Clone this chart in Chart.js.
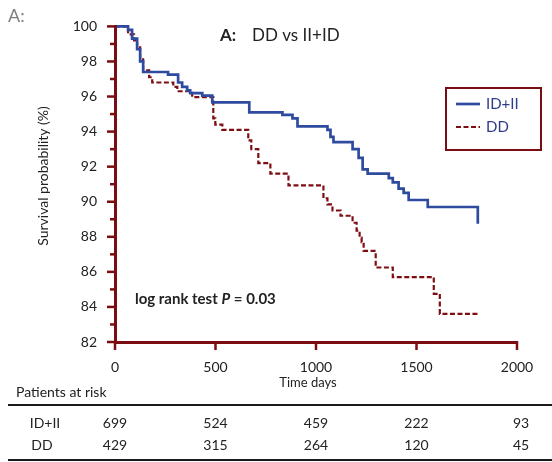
<!DOCTYPE html>
<html>
<head>
<meta charset="utf-8">
<script src="https://cdn.jsdelivr.net/npm/chart.js@4.4.1/dist/chart.umd.min.js"></script>
<style>
  html, body { margin: 0; padding: 0; background: #fff; }
  #wrap { width: 552px; height: 462px; position: relative; }
</style>
</head>
<body>
<div id="wrap"><canvas id="km" width="552" height="462"></canvas></div>
<script>
// Kaplan–Meier survival steps: day of each drop and survival (%) after it
const daysIDII = [0, 65, 85, 110, 125, 140, 264, 314, 334, 359, 374, 434, 484, 668, 833, 883, 908, 1057, 1072, 1087, 1182, 1212, 1232, 1257, 1362, 1382, 1411, 1436, 1461, 1556, 1805];
const survIDII = [100, 99.8, 99.3, 98.7, 98.0, 97.4, 97.25, 96.8, 96.55, 96.35, 96.2, 96.05, 95.67, 95.1, 94.95, 94.75, 94.3, 94.1, 93.7, 93.4, 93.0, 92.5, 91.85, 91.6, 91.35, 91.1, 90.75, 90.5, 90.1, 89.7, 88.75];

const daysDD = [0, 65, 95, 110, 125, 140, 170, 185, 290, 310, 384, 489, 499, 534, 663, 678, 713, 773, 863, 1037, 1057, 1082, 1122, 1182, 1202, 1217, 1227, 1237, 1297, 1382, 1586, 1616, 1805];
const survDD = [100, 99.55, 99.2, 98.9, 98.2, 97.5, 97.1, 96.8, 96.55, 96.3, 95.97, 94.75, 94.4, 94.1, 93.5, 93.0, 92.2, 91.6, 90.93, 90.2, 89.85, 89.5, 89.2, 88.8, 88.35, 87.95, 87.7, 87.2, 86.25, 85.7, 84.75, 83.6, 83.6];

// Axis ticks
const xTickDays = [0, 500, 1000, 1500, 2000];
const yMajorTicks = [82, 84, 86, 88, 90, 92, 94, 96, 98, 100];
const yMinorTicks = [83, 85, 87, 89, 91, 93, 95, 97, 99];

// Numbers at risk under each x tick
const riskGroups = ['ID+II', 'DD'];
const riskIDII = [699, 524, 459, 222, 93];
const riskDD = [429, 315, 264, 120, 45];

const FONT = 'Lato, "Open Sans", sans-serif';
const AXIS_RED = '#7b0d12';
const BLUE = '#2f4b9f';
const DARK_RED = '#7d0f14';
const TEXT = '#222222';

const toPoints = (xs, ys) => xs.map((d, i) => ({ x: d, y: ys[i] }));

// Axis tick marks, annotations, legend and the at-risk table
const decorations = {
  id: 'decorations',
  afterDraw(chart) {
    const { ctx } = chart;
    const xs = chart.scales.x, ys = chart.scales.y;
    const ax = xs.left, ay = ys.bottom;
    ctx.save();

    // y ticks: long major, short minor
    ctx.strokeStyle = AXIS_RED;
    ctx.lineWidth = 2.5;
    yMajorTicks.forEach(v => {
      const py = ys.getPixelForValue(v);
      ctx.beginPath(); ctx.moveTo(ax - 8, py); ctx.lineTo(ax + 2, py); ctx.stroke();
    });
    yMinorTicks.forEach(v => {
      const py = ys.getPixelForValue(v);
      ctx.beginPath(); ctx.moveTo(ax - 5, py); ctx.lineTo(ax, py); ctx.stroke();
    });
    // x ticks pointing down
    xTickDays.forEach(v => {
      const px = xs.getPixelForValue(v);
      ctx.beginPath(); ctx.moveTo(px, ay - 1); ctx.lineTo(px, ay + 8); ctx.stroke();
    });

    // panel letter
    ctx.fillStyle = '#7f7f7f';
    ctx.font = '18px ' + FONT;
    ctx.textAlign = 'left'; ctx.textBaseline = 'middle';
    ctx.fillText('A:', 8, 16);

    // title
    ctx.fillStyle = TEXT;
    ctx.font = 'bold 17px ' + FONT;
    ctx.fillText('A:', 220, 36);
    ctx.font = '17px ' + FONT;
    ctx.fillText('DD vs II+ID', 252, 36);

    // y-axis title
    ctx.save();
    ctx.translate(43, 176);
    ctx.rotate(-Math.PI / 2);
    ctx.textAlign = 'center';
    ctx.font = '14px ' + FONT;
    ctx.fillStyle = TEXT;
    ctx.fillText('Survival probability (%)', 0, 0);
    ctx.restore();

    // x-axis title
    ctx.textAlign = 'center';
    ctx.font = '13px ' + FONT;
    ctx.fillText('Time days', 308, 383);

    // log rank annotation
    ctx.textAlign = 'left';
    let tx = 135;
    const parts = [['bold 15px ', 'log rank test '], ['italic bold 15px ', 'P'], ['bold 15px ', ' = 0.03']];
    parts.forEach(([f, s]) => {
      ctx.font = f + FONT;
      ctx.fillText(s, tx, 299);
      tx += ctx.measureText(s).width;
    });

    // legend box
    ctx.strokeStyle = AXIS_RED;
    ctx.lineWidth = 2;
    ctx.strokeRect(446, 88, 95, 62);
    chart.data.datasets.forEach((ds, i) => {
      const ly = 104 + i * 23;
      ctx.strokeStyle = ds.borderColor;
      ctx.lineWidth = ds.borderWidth;
      ctx.setLineDash(ds.borderDash || []);
      ctx.beginPath(); ctx.moveTo(456, ly); ctx.lineTo(480, ly); ctx.stroke();
      ctx.setLineDash([]);
      ctx.fillStyle = '#2e3a8a';
      ctx.font = '15px ' + FONT;
      ctx.textAlign = 'left';
      ctx.fillText(ds.label, 486, ly);
    });

    // at-risk table
    ctx.fillStyle = TEXT;
    ctx.font = '14px ' + FONT;
    ctx.textAlign = 'left';
    ctx.fillText('Patients at risk', 16, 392);
    ctx.strokeStyle = '#1a1a1a';
    ctx.lineWidth = 2;
    ctx.beginPath(); ctx.moveTo(8, 405); ctx.lineTo(552, 405); ctx.stroke();
    ctx.beginPath(); ctx.moveTo(8, 460); ctx.lineTo(552, 460); ctx.stroke();
    const rows = [riskIDII, riskDD];
    const rowY = [423, 445];
    const labelX = [45, 42];
    rows.forEach((vals, r) => {
      ctx.textAlign = 'center';
      ctx.fillText(riskGroups[r], labelX[r], rowY[r]);
      vals.forEach((v, i) => {
        ctx.fillText(String(v), xs.getPixelForValue(xTickDays[i]) + (i === 4 ? 4 : 0), rowY[r]);
      });
    });

    ctx.restore();
  }
};

new Chart(document.getElementById('km'), {
  type: 'line',
  data: {
    datasets: [
      {
        label: 'ID+II',
        data: toPoints(daysIDII, survIDII),
        borderColor: BLUE,
        borderWidth: 2.7,
        stepped: true,
        pointRadius: 0,
        fill: false,
        clip: 6
      },
      {
        label: 'DD',
        data: toPoints(daysDD, survDD),
        borderColor: DARK_RED,
        borderWidth: 2.2,
        borderDash: [5, 2.5],
        stepped: true,
        pointRadius: 0,
        fill: false,
        clip: 6
      }
    ]
  },
  options: {
    responsive: false,
    devicePixelRatio: 1,
    animation: false,
    layout: { padding: { top: 24, right: 35, bottom: 0, left: 0 } },
    plugins: { legend: { display: false }, tooltip: { enabled: false }, title: { display: false } },
    scales: {
      x: {
        type: 'linear',
        min: 0, max: 2000,
        afterBuildTicks: s => { s.ticks = xTickDays.map(v => ({ value: v })); },
        ticks: {
          font: { family: FONT, size: 14 }, color: TEXT, padding: 17, maxRotation: 0,
          callback: v => String(v)
        },
        grid: { display: false, drawTicks: false },
        border: { display: true, color: AXIS_RED, width: 3 },
        afterFit: s => { s.height = 120; }
      },
      y: {
        type: 'linear',
        min: 82, max: 100,
        afterBuildTicks: s => { s.ticks = yMajorTicks.map(v => ({ value: v })); },
        ticks: { font: { family: FONT, size: 14 }, color: TEXT, padding: 18, callback: v => String(v) },
        grid: { display: false, drawTicks: false },
        border: { display: true, color: AXIS_RED, width: 3 },
        afterFit: s => { s.width = 115; }
      }
    }
  },
  plugins: [decorations]
});
</script>
</body>
</html>
